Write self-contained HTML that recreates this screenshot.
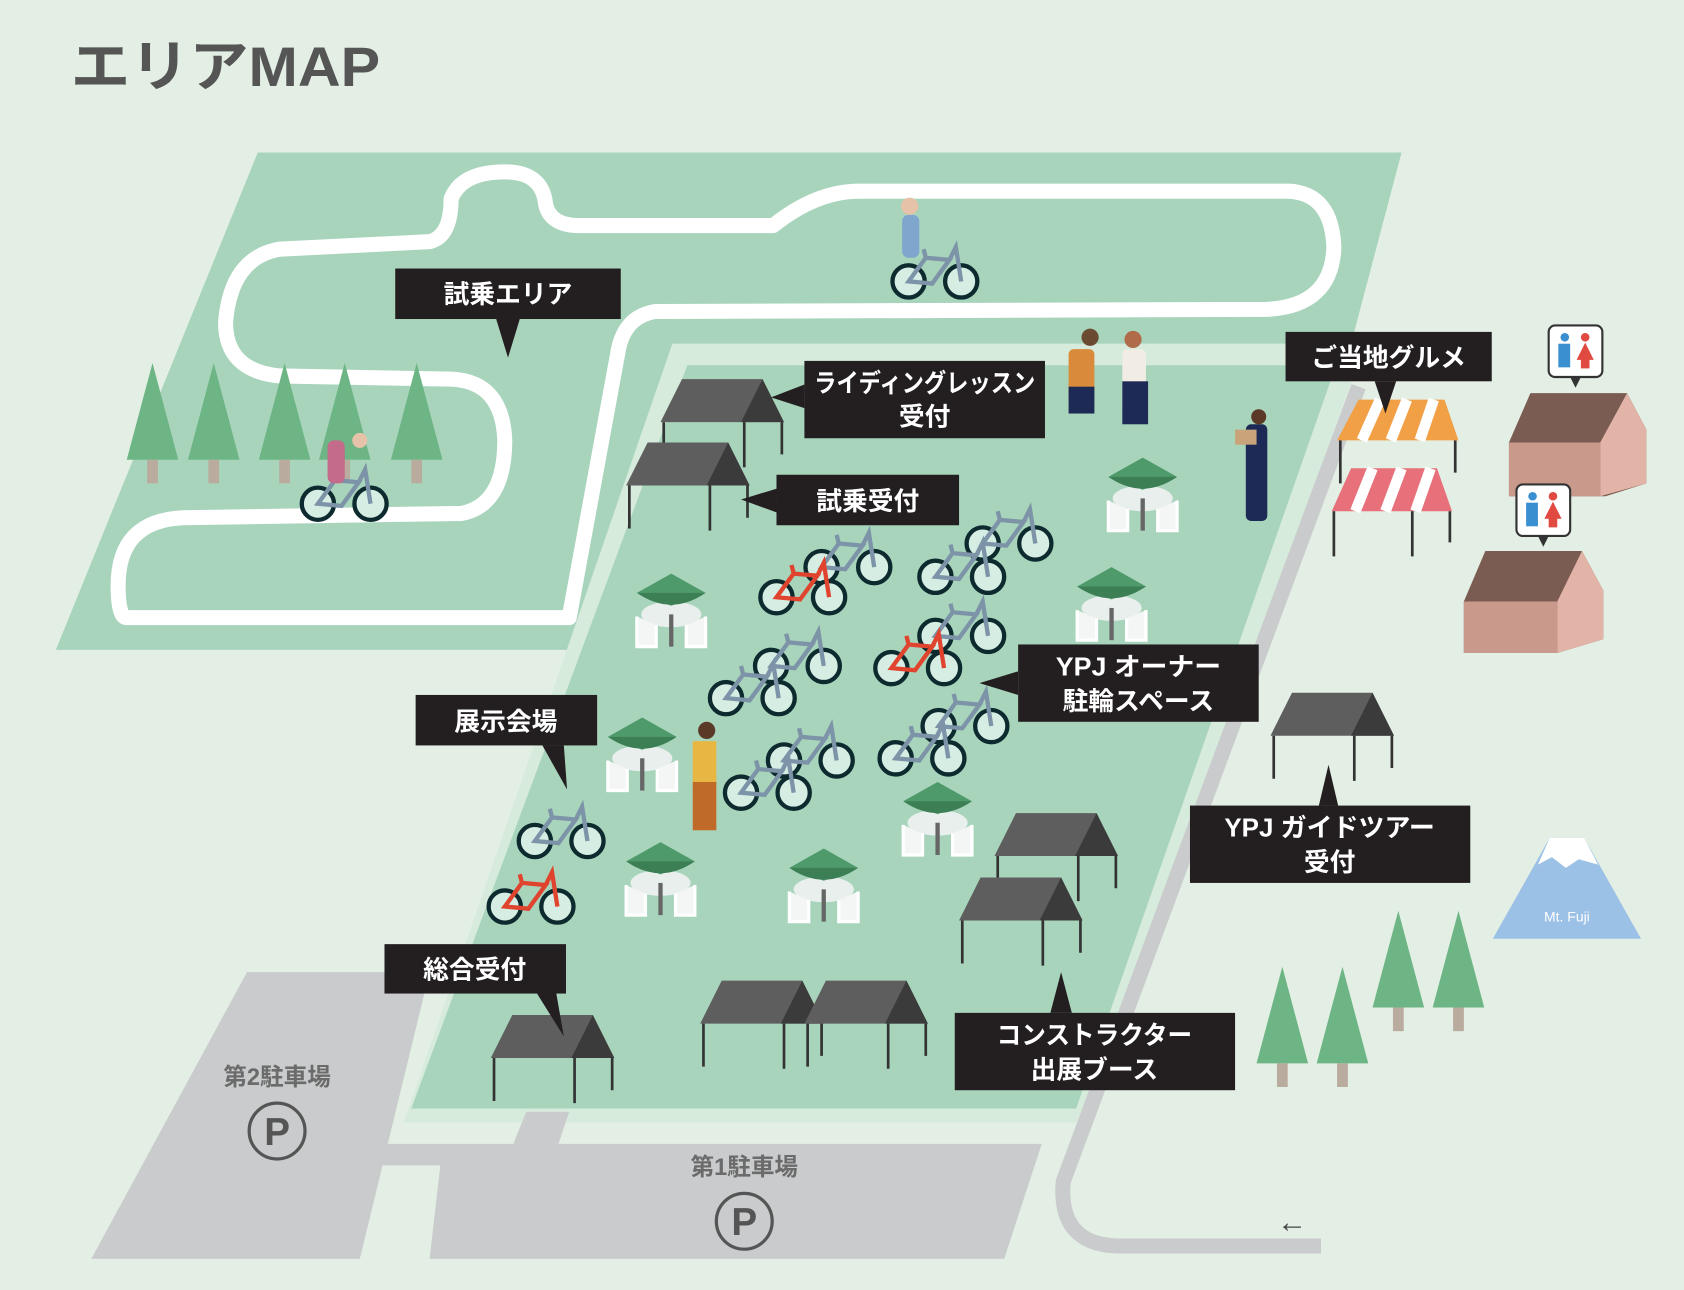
<!DOCTYPE html>
<html><head><meta charset="utf-8"><style>
html,body{margin:0;padding:0;background:#e3efe4;}
svg{display:block}
text{font-family:"Liberation Sans","Noto Sans CJK JP",sans-serif;}
</style></head><body>
<svg width="1684" height="1290" viewBox="0 0 1568 1201" preserveAspectRatio="none" xmlns="http://www.w3.org/2000/svg">
<defs>
<g id="bike">
 <circle cx="-22" cy="0" r="15" fill="#d6ede3" stroke="#0d2a2e" stroke-width="4"/>
 <circle cx="27" cy="0" r="15" fill="#d6ede3" stroke="#0d2a2e" stroke-width="4"/>
 <path d="M-22 0 L0 2 L16 -20 L-6 -22 Z M-6 -22 L-8 -30 M16 -20 L22 -32 L27 0" stroke="#7c93a8" stroke-width="4" fill="none"/>
</g>
<g id="bikeR">
 <circle cx="-22" cy="0" r="15" fill="#d6ede3" stroke="#0d2a2e" stroke-width="4"/>
 <circle cx="27" cy="0" r="15" fill="#d6ede3" stroke="#0d2a2e" stroke-width="4"/>
 <path d="M-22 0 L0 2 L16 -20 L-6 -22 Z M-6 -22 L-8 -30 M16 -20 L22 -32 L27 0" stroke="#e0432e" stroke-width="4" fill="none"/>
</g>
<g id="tent">
 <polygon points="0,40 20,0 95,0 115,40" fill="#5e5e5e"/>
 <polygon points="95,0 115,40 75,40" fill="#3b3b3b"/>
 <path d="M3 40 V80 M78 40 V82 M113 40 V70" stroke="#333" stroke-width="2.5"/>
</g>
<g id="tree">
 <polygon points="0,90 24,0 48,90" fill="#6db585"/>
 <rect x="19" y="90" width="10" height="22" fill="#b9ab9d"/>
</g>
<g id="table">
 <ellipse cx="0" cy="20" rx="28" ry="12" fill="#e8efec"/>
 <path d="M-32 22 v28 h18 v-20 M32 22 v28 h-18 v-20" stroke="#fff" stroke-width="3" fill="#f4f6f5"/>
 <rect x="-2" y="20" width="4" height="30" fill="#666"/>
 <path d="M-32 0 L0 -18 L32 0 L0 12 Z" fill="#4f9a6a"/>
 <path d="M-32 0 Q0 22 32 0" fill="#3c7f55"/>
</g>
</defs>

<rect width="1568" height="1201" fill="#e3efe4"/>
<text x="66" y="80" font-size="52" font-weight="bold" fill="#555" textLength="288" lengthAdjust="spacingAndGlyphs">エリアMAP</text>

<polygon points="240,142 1305,142 1258,320 630,320 535,605 52,605" fill="#a8d4bc"/>
<polygon points="626,320 1258,320 1262,345 1012,1045 376,1045" fill="#d6ebdb"/>
<polygon points="640,340 1244,340 1002,1032 383,1032" fill="#a8d4bc"/>

<path d="M530,575 L118,575 Q110,575 110,545 Q110,485 170,482 L430,478 Q470,470 470,410 Q468,355 420,353 L260,350 Q210,345 210,300 Q215,240 260,232 L400,225 Q420,220 420,185 Q430,160 470,160 Q505,160 508,190 Q512,210 540,210 L720,210 Q760,178 800,178 L1200,178 Q1240,180 1242,230 Q1240,285 1180,288 L610,290 Q580,295 575,330 Z" fill="none" stroke="#fff" stroke-width="14" stroke-linejoin="round"/>

<path d="M1265,360 L990,1100 Q985,1158 1040,1160 L1230,1160" fill="none" stroke="#c9cbcc" stroke-width="14"/>
<polygon points="230,905 400,905 335,1172 85,1172" fill="#c9cbcc"/>
<polygon points="345,1065 970,1065 935,1172 400,1172 410,1085 340,1085" fill="#c9cbcc"/>
<polygon points="490,1035 530,1035 520,1065 478,1065" fill="#c9cbcc"/>
<text x="258" y="1010" font-size="22" font-weight="bold" fill="#6b6b6b" text-anchor="middle">第2駐車場</text>
<circle cx="258" cy="1053" r="26" fill="none" stroke="#555" stroke-width="3"/>
<text x="258" y="1066" font-size="36" font-weight="bold" fill="#555" text-anchor="middle">P</text>
<text x="693" y="1094" font-size="22" font-weight="bold" fill="#6b6b6b" text-anchor="middle">第1駐車場</text>
<circle cx="693" cy="1137" r="26" fill="none" stroke="#555" stroke-width="3"/>
<text x="693" y="1150" font-size="36" font-weight="bold" fill="#555" text-anchor="middle">P</text>
<text x="1203" y="1147" font-size="28" fill="#444" text-anchor="middle">←</text>

<use href="#tree" x="118" y="338"/><use href="#tree" x="175" y="338"/><use href="#tree" x="241" y="338"/><use href="#tree" x="297" y="338"/><use href="#tree" x="364" y="338"/>
<use href="#tree" x="1170" y="900"/><use href="#tree" x="1226" y="900"/><use href="#tree" x="1278" y="848"/><use href="#tree" x="1334" y="848"/>

<use href="#tent" x="615" y="353"/><use href="#tent" x="583" y="412"/>
<use href="#tent" x="926" y="757"/><use href="#tent" x="893" y="817"/>
<use href="#tent" x="652" y="913"/><use href="#tent" x="749" y="913"/>
<use href="#tent" x="457" y="945"/><use href="#tent" x="1183" y="645"/>

<use href="#table" x="625" y="552"/><use href="#table" x="1064" y="444"/><use href="#table" x="1035" y="546"/>
<use href="#table" x="598" y="686"/><use href="#table" x="873" y="746"/><use href="#table" x="615" y="802"/><use href="#table" x="767" y="808"/>

<use href="#bike" x="787" y="528"/><use href="#bikeR" x="745" y="556"/>
<use href="#bike" x="937" y="506"/><use href="#bike" x="893" y="537"/>
<use href="#bike" x="740" y="620"/><use href="#bike" x="698" y="650"/>
<use href="#bike" x="893" y="592"/><use href="#bikeR" x="852" y="622"/>
<use href="#bike" x="752" y="708"/><use href="#bike" x="712" y="738"/>
<use href="#bike" x="896" y="676"/><use href="#bike" x="856" y="706"/>
<use href="#bike" x="520" y="783"/><use href="#bikeR" x="492" y="844"/>
<use href="#bike" x="868" y="262"/><use href="#bike" x="318" y="469"/>
<rect x="840" y="200" width="16" height="40" rx="6" fill="#7fa6cc"/><circle cx="847" cy="192" r="8" fill="#e6c3a8"/>
<rect x="305" y="410" width="16" height="40" rx="6" fill="#c46a8a"/><circle cx="335" cy="410" r="7" fill="#e6c3a8"/>
<rect x="995" y="325" width="24" height="55" rx="5" fill="#d98a3a"/><rect x="995" y="360" width="24" height="25" fill="#1d2a55"/><circle cx="1015" cy="314" r="8" fill="#6a4a30"/>
<rect x="1045" y="325" width="22" height="60" rx="5" fill="#f1ede4"/><rect x="1045" y="355" width="24" height="40" fill="#1d2a55"/><circle cx="1055" cy="316" r="8" fill="#b06b4a"/>
<rect x="1160" y="395" width="20" height="90" rx="5" fill="#1d2a55"/><rect x="1150" y="400" width="20" height="14" fill="#c9a47a"/><circle cx="1172" cy="388" r="7" fill="#5a3a26"/>
<rect x="645" y="690" width="22" height="40" fill="#e8b642"/><rect x="645" y="728" width="22" height="45" fill="#c06a2a"/><circle cx="658" cy="680" r="8" fill="#5a3a26"/>

<polygon points="1265,372 1345,372 1358,410 1245,410" fill="#f2a046"/>
<path d="M1268,410 L1285,372 M1295,410 L1310,372 M1322,410 L1335,372" stroke="#fff" stroke-width="10"/>
<path d="M1248,410 V450 M1355,410 V440" stroke="#333" stroke-width="2.5"/>
<polygon points="1258,436 1338,436 1352,476 1240,476" fill="#e8707a"/>
<path d="M1262,476 L1278,436 M1290,476 L1305,436 M1318,476 L1332,436" stroke="#fff" stroke-width="10"/>
<path d="M1242,476 V518 M1350,476 V505 M1315,476 V518" stroke="#333" stroke-width="2.5"/>

<polygon points="1405,412 1425,366 1515,366 1533,400 1533,450 1495,462 1405,462" fill="#7b5c52"/>
<polygon points="1405,412 1490,412 1490,462 1405,462" fill="#c99a8c"/><polygon points="1490,412 1515,366 1533,400 1533,450 1490,462" fill="#e2b4a7"/>
<polygon points="1363,560 1383,513 1473,513 1493,550 1493,595 1450,608 1363,608" fill="#7b5c52"/>
<polygon points="1363,560 1450,560 1450,608 1363,608" fill="#c99a8c"/><polygon points="1450,560 1473,513 1493,550 1493,595 1450,608" fill="#e2b4a7"/>
<rect x="1442" y="303" width="50" height="48" rx="6" fill="#fff" stroke="#333" stroke-width="2"/><polygon points="1462,351 1472,351 1467,361" fill="#333"/>
<circle cx="1457" cy="314" r="4" fill="#3a8fd0"/><rect x="1451" y="320" width="11" height="22" fill="#3a8fd0"/>
<circle cx="1476" cy="314" r="4" fill="#e04a40"/><polygon points="1476,319 1484,335 1468,335" fill="#e04a40"/><rect x="1472" y="333" width="8" height="10" fill="#e04a40"/>
<rect x="1412" y="451" width="50" height="48" rx="6" fill="#fff" stroke="#333" stroke-width="2"/><polygon points="1432,499 1442,499 1437,509" fill="#333"/>
<circle cx="1427" cy="462" r="4" fill="#3a8fd0"/><rect x="1421" y="468" width="11" height="22" fill="#3a8fd0"/>
<circle cx="1446" cy="462" r="4" fill="#e04a40"/><polygon points="1446,467 1454,483 1438,483" fill="#e04a40"/><rect x="1442" y="481" width="8" height="10" fill="#e04a40"/>

<polygon points="1390,874 1443,780 1475,780 1528,874" fill="#9cc1e6"/>
<polygon points="1443,780 1475,780 1488,805 1470,800 1458,808 1445,798 1432,805" fill="#fff"/>
<text x="1459" y="858" font-size="13" fill="#fff" text-anchor="middle">Mt. Fuji</text>

<g fill="#231f20">
<rect x="368" y="250" width="210" height="47"/><polygon points="462,297 484,297 473,333"/>
<rect x="749" y="336" width="224" height="72"/><polygon points="749,358 749,380 718,370"/>
<rect x="723" y="442" width="170" height="47"/><polygon points="723,455 723,477 690,465"/>
<rect x="1197" y="309" width="192" height="46"/><polygon points="1280,355 1300,355 1290,385"/>
<rect x="948" y="600" width="224" height="72"/><polygon points="948,625 948,647 912,636"/>
<rect x="387" y="647" width="169" height="47"/><polygon points="505,694 525,694 528,735"/>
<rect x="1108" y="750" width="261" height="72"/><polygon points="1228,750 1246,750 1237,712"/>
<rect x="358" y="879" width="169" height="46"/><polygon points="500,925 518,925 525,965"/>
<rect x="889" y="943" width="261" height="72"/><polygon points="978,943 998,943 988,905"/>
</g>
<g fill="#fff" font-size="24" font-weight="bold" text-anchor="middle">
<text x="473" y="282">試乗エリア</text>
<text x="861" y="365" textLength="206" lengthAdjust="spacingAndGlyphs">ライディングレッスン</text><text x="861" y="396">受付</text>
<text x="808" y="475">試乗受付</text>
<text x="1293" y="341">ご当地グルメ</text>
<text x="1060" y="629" textLength="154" lengthAdjust="spacingAndGlyphs">YPJ オーナー</text><text x="1060" y="661">駐輪スペース</text>
<text x="471" y="680">展示会場</text>
<text x="1238" y="779" textLength="196" lengthAdjust="spacingAndGlyphs">YPJ ガイドツアー</text><text x="1238" y="811">受付</text>
<text x="442" y="911">総合受付</text>
<text x="1019" y="972" textLength="182" lengthAdjust="spacingAndGlyphs">コンストラクター</text><text x="1019" y="1004">出展ブース</text>
</g>
</svg>
</body></html>
